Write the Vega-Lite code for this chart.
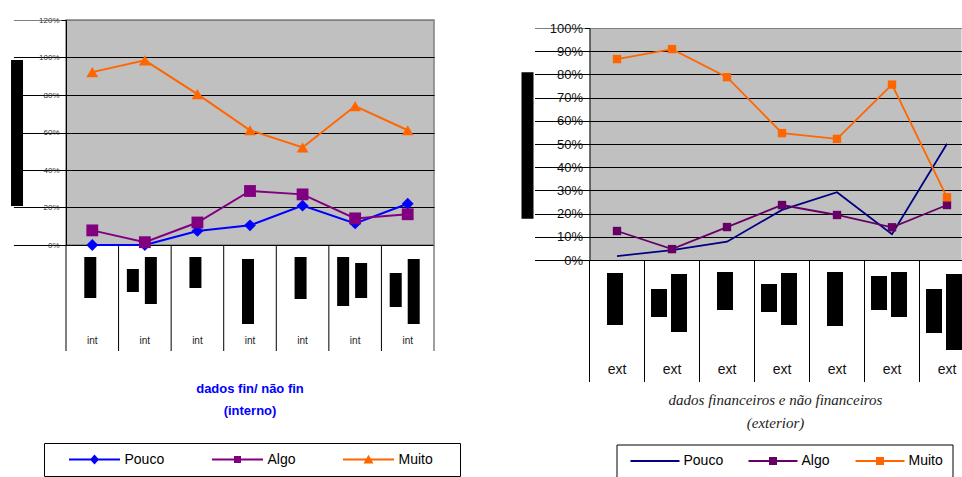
{
  "$schema": "https://vega.github.io/schema/vega-lite/v6.json",
  "padding": {"left": 10, "top": 15, "right": 0, "bottom": 0},
  "background": "white",
  "config": {"view": {"stroke": null}, "font": "Liberation Sans"},
  "datasets": {
    "interno": [
      {"cat": 1, "serie": "Pouco", "valor": 0.0},
      {"cat": 2, "serie": "Pouco", "valor": 0.0},
      {"cat": 3, "serie": "Pouco", "valor": 0.075},
      {"cat": 4, "serie": "Pouco", "valor": 0.105},
      {"cat": 5, "serie": "Pouco", "valor": 0.21},
      {"cat": 6, "serie": "Pouco", "valor": 0.115},
      {"cat": 7, "serie": "Pouco", "valor": 0.22},
      {"cat": 1, "serie": "Algo", "valor": 0.078},
      {"cat": 2, "serie": "Algo", "valor": 0.015},
      {"cat": 3, "serie": "Algo", "valor": 0.12},
      {"cat": 4, "serie": "Algo", "valor": 0.288},
      {"cat": 5, "serie": "Algo", "valor": 0.27},
      {"cat": 6, "serie": "Algo", "valor": 0.142},
      {"cat": 7, "serie": "Algo", "valor": 0.164},
      {"cat": 1, "serie": "Muito", "valor": 0.922},
      {"cat": 2, "serie": "Muito", "valor": 0.985},
      {"cat": 3, "serie": "Muito", "valor": 0.805},
      {"cat": 4, "serie": "Muito", "valor": 0.612},
      {"cat": 5, "serie": "Muito", "valor": 0.52},
      {"cat": 6, "serie": "Muito", "valor": 0.741},
      {"cat": 7, "serie": "Muito", "valor": 0.612}
    ],
    "exterior": [
      {"cat": 1, "serie": "Pouco", "valor": 0.017},
      {"cat": 2, "serie": "Pouco", "valor": 0.043},
      {"cat": 3, "serie": "Pouco", "valor": 0.079},
      {"cat": 4, "serie": "Pouco", "valor": 0.216},
      {"cat": 5, "serie": "Pouco", "valor": 0.292},
      {"cat": 6, "serie": "Pouco", "valor": 0.111},
      {"cat": 7, "serie": "Pouco", "valor": 0.501},
      {"cat": 1, "serie": "Algo", "valor": 0.125},
      {"cat": 2, "serie": "Algo", "valor": 0.047},
      {"cat": 3, "serie": "Algo", "valor": 0.142},
      {"cat": 4, "serie": "Algo", "valor": 0.237},
      {"cat": 5, "serie": "Algo", "valor": 0.194},
      {"cat": 6, "serie": "Algo", "valor": 0.141},
      {"cat": 7, "serie": "Algo", "valor": 0.237},
      {"cat": 1, "serie": "Muito", "valor": 0.866},
      {"cat": 2, "serie": "Muito", "valor": 0.909},
      {"cat": 3, "serie": "Muito", "valor": 0.788},
      {"cat": 4, "serie": "Muito", "valor": 0.547},
      {"cat": 5, "serie": "Muito", "valor": 0.522},
      {"cat": 6, "serie": "Muito", "valor": 0.756},
      {"cat": 7, "serie": "Muito", "valor": 0.27}
    ],
    "tituloEixoInt": [{"cat": "eixo", "de": 0.208, "ate": 0.987}],
    "tituloEixoExt": [{"cat": "eixo", "de": 0.178, "ate": 0.809}],
    "rotulosInt": [
      {"cat": 1, "texto": "int"}, {"cat": 2, "texto": "int"}, {"cat": 3, "texto": "int"},
      {"cat": 4, "texto": "int"}, {"cat": 5, "texto": "int"}, {"cat": 6, "texto": "int"},
      {"cat": 7, "texto": "int"}
    ],
    "rotulosExt": [
      {"cat": 1, "texto": "ext"}, {"cat": 2, "texto": "ext"}, {"cat": 3, "texto": "ext"},
      {"cat": 4, "texto": "ext"}, {"cat": 5, "texto": "ext"}, {"cat": 6, "texto": "ext"},
      {"cat": 7, "texto": "ext"}
    ],
    "blocosInt": [
      {"cat": 1, "lado": "unico", "topo": 12, "base": 53},
      {"cat": 2, "lado": "esq", "topo": 24, "base": 47},
      {"cat": 2, "lado": "dir", "topo": 12, "base": 59},
      {"cat": 3, "lado": "unico", "topo": 12, "base": 43},
      {"cat": 4, "lado": "unico", "topo": 14, "base": 79},
      {"cat": 5, "lado": "unico", "topo": 12, "base": 54},
      {"cat": 6, "lado": "esq", "topo": 12, "base": 61},
      {"cat": 6, "lado": "dir", "topo": 18, "base": 53},
      {"cat": 7, "lado": "esq", "topo": 28, "base": 62},
      {"cat": 7, "lado": "dir", "topo": 14, "base": 79}
    ],
    "blocosExt": [
      {"cat": 1, "lado": "unico", "topo": 13, "base": 65},
      {"cat": 2, "lado": "esq", "topo": 29, "base": 57},
      {"cat": 2, "lado": "dir", "topo": 14, "base": 72},
      {"cat": 3, "lado": "unico", "topo": 12, "base": 50},
      {"cat": 4, "lado": "esq", "topo": 24, "base": 52},
      {"cat": 4, "lado": "dir", "topo": 13, "base": 65},
      {"cat": 5, "lado": "unico", "topo": 12, "base": 66},
      {"cat": 6, "lado": "esq", "topo": 16, "base": 50},
      {"cat": 6, "lado": "dir", "topo": 12, "base": 57},
      {"cat": 7, "lado": "esq", "topo": 29, "base": 73},
      {"cat": 7, "lado": "dir", "topo": 14, "base": 90}
    ]
  },
  "hconcat": [
    {
      "vconcat": [
        {
          "width": 368,
          "height": 225,
          "view": {"fill": "#C0C0C0", "stroke": "#808080", "strokeWidth": 1.5},
          "encoding": {
            "x": {
              "field": "cat", "type": "ordinal",
              "scale": {"domain": ["eixo", 1, 2, 3, 4, 5, 6, 7], "range": [-52.57, 368], "paddingInner": 0, "paddingOuter": 0},
              "axis": null
            },
            "y": {
              "field": "valor", "type": "quantitative",
              "scale": {"domain": [0, 1.2], "nice": false},
              "axis": {
                "values": [0, 0.2, 0.4, 0.6, 0.8, 1.0, 1.2], "format": ".0%", "title": null,
                "grid": true, "gridOpacity": 1, "gridWidth": 1,
                "gridColor": {"condition": {"test": "datum.value >= 1.2", "value": "#808080"}, "value": "#000000"},
                "domainColor": "#000000", "tickColor": "#000000", "tickSize": 5,
                "labelFont": "Liberation Sans", "labelFontSize": 8, "labelColor": "#333333", "labelPadding": 2
              }
            }
          },
          "layer": [
            {
              "data": {"name": "interno"},
              "mark": {"type": "line", "strokeWidth": 2},
              "encoding": {
                "color": {"field": "serie", "type": "nominal", "scale": {"domain": ["Pouco", "Algo", "Muito"], "range": ["#0000FF", "#800080", "#FF6600"]}, "legend": null}
              }
            },
            {
              "data": {"name": "interno"},
              "mark": {"type": "point", "filled": true, "opacity": 1, "size": 140},
              "encoding": {
                "color": {"field": "serie", "type": "nominal", "scale": {"domain": ["Pouco", "Algo", "Muito"], "range": ["#0000FF", "#800080", "#FF6600"]}, "legend": null},
                "shape": {
                  "field": "serie", "type": "nominal",
                  "scale": {"domain": ["Pouco", "Algo", "Muito"], "range": ["diamond", "square", "triangle-up"]},
                  "legend": null
                }
              }
            },
            {
              "data": {"name": "interno"},
              "mark": {"type": "point", "filled": true, "opacity": 0, "size": 1},
              "encoding": {
                "color": {
                  "field": "serie", "type": "nominal",
                  "scale": {"domain": ["Pouco", "Algo", "Muito"], "range": ["#0000FF", "#800080", "#FF6600"]},
                  "legend": {
                    "orient": "none", "legendX": -22, "legendY": 423, "direction": "horizontal",
                    "title": " ", "titleOrient": "right", "titlePadding": 19, "titleFontSize": 14,
                    "padding": 8, "columnPadding": 30, "labelOffset": 4.5, "symbolSize": 4624, "clipHeight": 17,
                    "strokeColor": "#000000", "fillColor": "#FFFFFF", "symbolOpacity": 1, "symbolStrokeWidth": 0,
                    "labelFont": "Liberation Sans", "labelFontSize": 14, "labelColor": "#000000", "symbolOffset": 0
                  }
                },
                "shape": {
                  "field": "serie", "type": "nominal",
                  "scale": {
                    "domain": ["Pouco", "Algo", "Muito"],
                    "range": [
                      "M-0.5,-0.03H1V0.03H-0.5ZM0.25,-0.147L0.382,0L0.25,0.147L0.118,0Z",
                      "M-0.5,-0.03H1V0.03H-0.5ZM0.147,-0.103H0.353V0.103H0.147Z",
                      "M-0.5,-0.03H1V0.03H-0.5ZM0.25,-0.14L0.397,0.12H0.103Z"
                    ]
                  },
                  "legend": {
                    "orient": "none", "legendX": -22, "legendY": 423, "direction": "horizontal",
                    "title": " ", "titleOrient": "right", "titlePadding": 19, "titleFontSize": 14,
                    "padding": 8, "columnPadding": 30, "labelOffset": 4.5, "symbolSize": 4624, "clipHeight": 17,
                    "strokeColor": "#000000", "fillColor": "#FFFFFF", "symbolOpacity": 1, "symbolStrokeWidth": 0,
                    "labelFont": "Liberation Sans", "labelFontSize": 14, "labelColor": "#000000", "symbolOffset": 0
                  }
                }
              }
            },
            {
              "data": {"name": "tituloEixoInt"},
              "mark": {"type": "bar", "width": 12, "xOffset": -22.7, "color": "#000000"},
              "encoding": {
                "y": {"field": "de", "type": "quantitative"},
                "y2": {"field": "ate"}
              }
            }
          ],
          "resolve": {"scale": {"color": "independent", "shape": "independent"}}
        },
        {
          "width": 368,
          "height": 106,
          "title": {
            "text": ["dados fin/ não fin", "(interno)"], "orient": "bottom", "anchor": "middle", "offset": 31,
            "font": "Liberation Sans", "fontSize": 13, "fontWeight": "bold", "color": "#0000FF", "lineHeight": 22
          },
          "layer": [
            {
              "data": {"name": "rotulosInt"},
              "mark": {"type": "rule", "color": "#000000", "strokeWidth": 1},
              "encoding": {
                "x": {"field": "cat", "type": "ordinal", "bandPosition": 0, "scale": {"paddingInner": 0, "paddingOuter": 0}, "axis": null},
                "y": {"datum": 0, "type": "quantitative", "scale": {"domain": [0, 106], "reverse": true, "nice": false}, "axis": null},
                "y2": {"datum": 106}
              }
            },
            {
              "data": {"name": "rotulosInt"},
              "transform": [{"filter": "datum.cat === 7"}],
              "mark": {"type": "rule", "color": "#808080", "strokeWidth": 1.5},
              "encoding": {
                "x": {"field": "cat", "type": "ordinal", "bandPosition": 1, "axis": null},
                "y": {"datum": 0, "type": "quantitative"},
                "y2": {"datum": 106}
              }
            },
            {
              "data": {"name": "rotulosInt"},
              "mark": {"type": "text", "font": "Liberation Sans", "fontSize": 10, "color": "#222222", "baseline": "middle"},
              "encoding": {
                "x": {"field": "cat", "type": "ordinal", "axis": null},
                "y": {"datum": 96, "type": "quantitative"},
                "text": {"field": "texto"}
              }
            },
            {
              "data": {"name": "blocosInt"},
              "transform": [{"filter": "datum.lado === 'unico'"}],
              "mark": {"type": "bar", "width": 12, "xOffset": -2, "color": "#000000"},
              "encoding": {
                "x": {"field": "cat", "type": "ordinal", "axis": null},
                "y": {"field": "topo", "type": "quantitative"},
                "y2": {"field": "base"}
              }
            },
            {
              "data": {"name": "blocosInt"},
              "transform": [{"filter": "datum.lado === 'esq'"}],
              "mark": {"type": "bar", "width": 12, "xOffset": -12, "color": "#000000"},
              "encoding": {
                "x": {"field": "cat", "type": "ordinal", "axis": null},
                "y": {"field": "topo", "type": "quantitative"},
                "y2": {"field": "base"}
              }
            },
            {
              "data": {"name": "blocosInt"},
              "transform": [{"filter": "datum.lado === 'dir'"}],
              "mark": {"type": "bar", "width": 12, "xOffset": 6, "color": "#000000"},
              "encoding": {
                "x": {"field": "cat", "type": "ordinal", "axis": null},
                "y": {"field": "topo", "type": "quantitative"},
                "y2": {"field": "base"}
              }
            }
          ]
        }
      ],
      "spacing": 0,
      "bounds": "flush"
    },
    {
      "vconcat": [
        {
          "width": 372,
          "height": 7.5,
          "data": {"values": [{"vazio": true}]},
          "mark": {"type": "point", "opacity": 0},
          "encoding": {}
        },
        {
          "width": 372,
          "height": 232,
          "view": {"fill": "#C0C0C0"},
          "encoding": {
            "x": {
              "field": "cat", "type": "ordinal",
              "scale": {"domain": ["eixo", 1, 2, 3, 4, 5, 6, 7], "range": [-55, 385], "paddingInner": 0, "paddingOuter": 0},
              "axis": null
            },
            "y": {
              "field": "valor", "type": "quantitative",
              "scale": {"domain": [0, 1], "nice": false},
              "axis": {
                "values": [0, 0.1, 0.2, 0.3, 0.4, 0.5, 0.6, 0.7, 0.8, 0.9, 1.0], "format": ".0%", "title": null,
                "grid": true, "gridOpacity": 1, "gridWidth": 1,
                "gridColor": {"condition": {"test": "datum.value >= 1", "value": "#808080"}, "value": "#000000"},
                "domainColor": "#000000", "tickColor": "#000000", "tickSize": 5,
                "labelFont": "Liberation Sans", "labelFontSize": 13, "labelColor": "#111111", "labelPadding": 2
              }
            }
          },
          "layer": [
            {
              "data": {"name": "exterior"},
              "mark": {"type": "line", "strokeWidth": 1.8},
              "encoding": {
                "color": {"field": "serie", "type": "nominal", "scale": {"domain": ["Pouco", "Algo", "Muito"], "range": ["#000080", "#660066", "#FF6600"]}, "legend": null}
              }
            },
            {
              "data": {"name": "exterior"},
              "transform": [{"filter": "datum.serie !== 'Pouco'"}],
              "mark": {"type": "point", "filled": true, "opacity": 1, "size": 70, "shape": "square"},
              "encoding": {
                "color": {"field": "serie", "type": "nominal", "scale": {"domain": ["Pouco", "Algo", "Muito"], "range": ["#000080", "#660066", "#FF6600"]}, "legend": null}
              }
            },
            {
              "data": {"name": "exterior"},
              "mark": {"type": "point", "filled": true, "opacity": 0, "size": 1},
              "encoding": {
                "color": {
                  "field": "serie", "type": "nominal",
                  "scale": {"domain": ["Pouco", "Algo", "Muito"], "range": ["#000080", "#660066", "#FF6600"]},
                  "legend": {
                    "orient": "none", "legendX": 27, "legendY": 416.5, "direction": "horizontal",
                    "title": " ", "titleOrient": "right", "titlePadding": 3, "titleFontSize": 14,
                    "padding": 7, "columnPadding": 18, "labelOffset": 4, "symbolSize": 3136, "clipHeight": 19,
                    "strokeColor": "#000000", "fillColor": "#FFFFFF", "symbolOpacity": 1, "symbolStrokeWidth": 0,
                    "labelFont": "Liberation Sans", "labelFontSize": 14, "labelColor": "#000000", "symbolOffset": 0
                  }
                },
                "shape": {
                  "field": "serie", "type": "nominal",
                  "scale": {
                    "domain": ["Pouco", "Algo", "Muito"],
                    "range": [
                      "M-0.75,-0.036H1V0.036H-0.75Z",
                      "M-0.75,-0.036H1V0.036H-0.75ZM-0.018,-0.143H0.268V0.143H-0.018Z",
                      "M-0.75,-0.036H1V0.036H-0.75ZM-0.018,-0.143H0.268V0.143H-0.018Z"
                    ]
                  },
                  "legend": {
                    "orient": "none", "legendX": 27, "legendY": 416.5, "direction": "horizontal",
                    "title": " ", "titleOrient": "right", "titlePadding": 3, "titleFontSize": 14,
                    "padding": 7, "columnPadding": 18, "labelOffset": 4, "symbolSize": 3136, "clipHeight": 19,
                    "strokeColor": "#000000", "fillColor": "#FFFFFF", "symbolOpacity": 1, "symbolStrokeWidth": 0,
                    "labelFont": "Liberation Sans", "labelFontSize": 14, "labelColor": "#000000", "symbolOffset": 0
                  }
                }
              }
            },
            {
              "data": {"name": "tituloEixoExt"},
              "mark": {"type": "bar", "width": 12, "xOffset": -34.5, "color": "#000000"},
              "encoding": {
                "y": {"field": "de", "type": "quantitative"},
                "y2": {"field": "ate"}
              }
            }
          ],
          "resolve": {"scale": {"color": "independent", "shape": "independent"}}
        },
        {
          "width": 372,
          "height": 122,
          "title": {
            "text": ["dados financeiros e não financeiros", "(exterior)"], "orient": "bottom", "anchor": "middle", "offset": 10,
            "font": "Liberation Serif", "fontSize": 15, "fontStyle": "italic", "fontWeight": "normal", "color": "#222222", "lineHeight": 23
          },
          "layer": [
            {
              "data": {"name": "rotulosExt"},
              "mark": {"type": "rule", "color": "#000000", "strokeWidth": 1},
              "encoding": {
                "x": {"field": "cat", "type": "ordinal", "bandPosition": 0, "scale": {"range": [0, 385], "paddingInner": 0, "paddingOuter": 0}, "axis": null},
                "y": {"datum": 0, "type": "quantitative", "scale": {"domain": [0, 122], "reverse": true, "nice": false}, "axis": null},
                "y2": {"datum": 122}
              }
            },
            {
              "data": {"name": "rotulosExt"},
              "mark": {"type": "text", "font": "Liberation Sans", "fontSize": 14, "color": "#111111", "baseline": "middle"},
              "encoding": {
                "x": {"field": "cat", "type": "ordinal", "axis": null},
                "y": {"datum": 110, "type": "quantitative"},
                "text": {"field": "texto"}
              }
            },
            {
              "data": {"name": "blocosExt"},
              "transform": [{"filter": "datum.lado === 'unico'"}],
              "mark": {"type": "bar", "width": 16, "xOffset": -2, "color": "#000000"},
              "encoding": {
                "x": {"field": "cat", "type": "ordinal", "axis": null},
                "y": {"field": "topo", "type": "quantitative"},
                "y2": {"field": "base"}
              }
            },
            {
              "data": {"name": "blocosExt"},
              "transform": [{"filter": "datum.lado === 'esq'"}],
              "mark": {"type": "bar", "width": 16, "xOffset": -13, "color": "#000000"},
              "encoding": {
                "x": {"field": "cat", "type": "ordinal", "axis": null},
                "y": {"field": "topo", "type": "quantitative"},
                "y2": {"field": "base"}
              }
            },
            {
              "data": {"name": "blocosExt"},
              "transform": [{"filter": "datum.lado === 'dir'"}],
              "mark": {"type": "bar", "width": 16, "xOffset": 7, "color": "#000000"},
              "encoding": {
                "x": {"field": "cat", "type": "ordinal", "axis": null},
                "y": {"field": "topo", "type": "quantitative"},
                "y2": {"field": "base"}
              }
            }
          ]
        }
      ],
      "spacing": 0,
      "bounds": "flush"
    }
  ],
  "spacing": 59.5,
  "bounds": "full",
  "resolve": {"scale": {"color": "independent", "shape": "independent"}}
}
